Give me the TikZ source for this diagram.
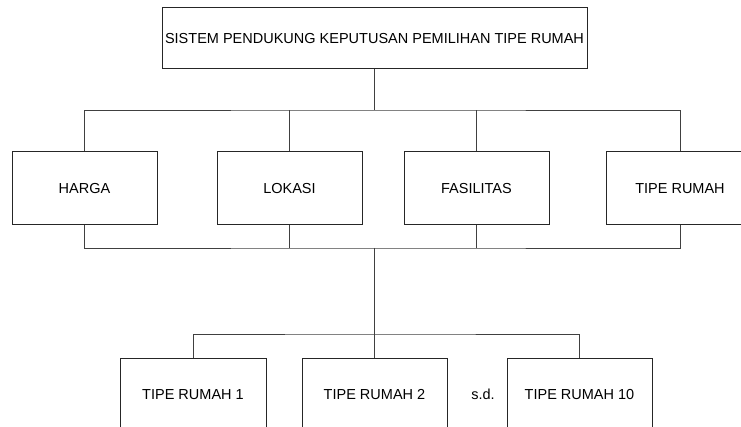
\documentclass[tikz,border=0pt]{standalone}
\usepackage{fontspec}
\setmainfont{Liberation Sans}
\begin{document}
\begin{tikzpicture}[x=1pt,y=-1pt,
  box/.style={draw=black!85,line width=1pt,fill=white,inner sep=0pt,font=\fontsize{14.5}{17}\selectfont},
  conn/.style={draw=black!75,line width=0.9pt}]
\clip (0,0) rectangle (741,427);
\fill[white] (0,0) rectangle (741,427);
\node[box,minimum width=425pt,minimum height=61pt] (top) at (374.5,38.5) {SISTEM PENDUKUNG KEPUTUSAN PEMILIHAN TIPE RUMAH};
\node[box,minimum width=145pt,minimum height=73pt] (harga) at (84.5,188.5) {HARGA};
\node[box,minimum width=145pt,minimum height=73pt] (lokasi) at (289.5,188.5) {LOKASI};
\node[box,minimum width=145pt,minimum height=73pt] (fas) at (476.5,188.5) {FASILITAS};
\node[box,minimum width=148pt,minimum height=73pt] (tipe) at (680,188.5) {TIPE RUMAH};
\node[box,minimum width=146pt,minimum height=73pt] (tr1) at (193,394.5) {TIPE RUMAH 1};
\node[box,minimum width=145pt,minimum height=73pt] (tr2) at (374.5,394.5) {TIPE RUMAH 2};
\node[box,minimum width=145pt,minimum height=73pt] (tr10) at (579.5,394.5) {TIPE RUMAH 10};
\node[font=\fontsize{14.5}{17}\selectfont] (sd) at (483,394.5) {s.d.};
\coordinate (bus1) at (374.5,110);
\coordinate (bus2) at (374.5,248);
\coordinate (bus3) at (374.5,334);
\path[conn] (top.south) -- (bus1);
\path[conn] (harga.north) |- (bus1) -| (tipe.north);
\path[conn] (lokasi.north) -- (lokasi.north |- bus1);
\path[conn] (fas.north) -- (fas.north |- bus1);
\path[conn] (harga.south) |- (bus2) -| (tipe.south);
\path[conn] (lokasi.south) -- (lokasi.south |- bus2);
\path[conn] (fas.south) -- (fas.south |- bus2);
\path[conn] (bus2) -- (tr2.north);
\path[conn] (tr1.north) |- (bus3) -| (tr10.north);
\end{tikzpicture}
\end{document}
